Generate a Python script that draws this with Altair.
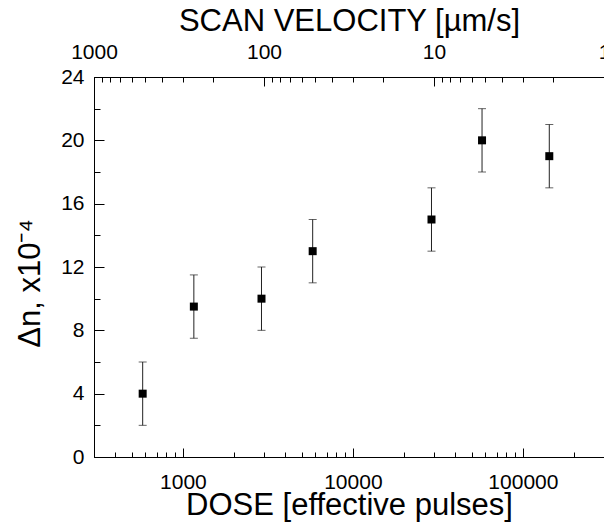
import altair as alt
import pandas as pd

# ---- data ----
dose = [580, 1160, 2900, 5800, 29000, 57500, 143000]
delta_n = [4.0, 9.5, 10.0, 13.0, 15.0, 20.0, 19.0]
delta_n_err = [2.0, 2.0, 2.0, 2.0, 2.0, 2.0, 2.0]

dose_major_ticks = [1000, 10000, 100000]
dose_minor_ticks = [400, 500, 600, 700, 800, 900,
                    2000, 3000, 4000, 5000, 6000, 7000, 8000, 9000,
                    20000, 30000, 40000, 50000, 60000, 70000, 80000, 90000,
                    200000]
velocity_major_ticks = [1000, 100, 10, 1]
velocity_minor_ticks = [900, 800, 700, 600, 500, 400, 300, 200,
                        90, 80, 70, 60, 50, 40, 30, 20,
                        9, 8, 7, 6, 5, 4, 3, 2]
y_major_ticks = [0, 4, 8, 12, 16, 20, 24]
y_minor_ticks = [2, 6, 10, 14, 18, 22]

df = pd.DataFrame({
    "dose": dose,
    "dn": delta_n,
    "lo": [v - e for v, e in zip(delta_n, delta_n_err)],
    "hi": [v + e for v, e in zip(delta_n, delta_n_err)],
})
vel_major_df = pd.DataFrame({"velocity": velocity_major_ticks})
vel_minor_df = pd.DataFrame({"velocity": velocity_minor_ticks})

FONT = "Liberation Sans"
x_scale = alt.Scale(type="log", domain=[300, 300000], nice=False)
y_scale = alt.Scale(domain=[0, 24], nice=False)
vel_scale = alt.Scale(type="log", domain=[1, 1000], reverse=True, nice=False)


def ax(**kw):
    base = dict(domainColor="black", tickColor="black", labelColor="black",
                titleColor="black", labelFont=FONT, titleFont=FONT,
                labelFontSize=21, titleFontSize=31, titleFontWeight="normal",
                grid=False, labelFlush=False, domainWidth=1, tickWidth=1)
    base.update(kw)
    return alt.Axis(**base)


bars = alt.Chart(df).mark_rule(color="#222222", strokeWidth=1).encode(
    x=alt.X("dose:Q", scale=x_scale,
            axis=ax(orient="bottom", values=dose_major_ticks, format="d",
                    tickSize=alt.ExprRef(expr="-9"), labelPadding=23,
                    title="DOSE [effective pulses]",
                    titlePadding=alt.ExprRef(expr="-2"))),
    y=alt.Y("lo:Q", scale=y_scale,
            axis=ax(orient="left", values=y_major_ticks, format="d",
                    tickSize=alt.ExprRef(expr="-10"), labelPadding=20,
                    title="Δn, x10⁻⁴", titlePadding=14, titleY=206)),
    y2="hi:Q",
)
caps_lo = alt.Chart(df).mark_tick(orient="horizontal", size=8, thickness=1,
                                  color="#222222").encode(x="dose:Q", y="lo:Q")
caps_hi = alt.Chart(df).mark_tick(orient="horizontal", size=8, thickness=1,
                                  color="#222222").encode(x="dose:Q", y="hi:Q")
points = alt.Chart(df).mark_square(size=64, color="black", opacity=1).encode(
    x="dose:Q", y="dn:Q")

data_layer = alt.layer(bars, caps_lo, caps_hi, points)

minor = alt.Chart(df).mark_point(opacity=0).encode(
    x=alt.X("dose:Q", scale=x_scale,
            axis=ax(orient="bottom", values=dose_minor_ticks, labels=False,
                    domain=False, tickSize=alt.ExprRef(expr="-5"), title=None)),
    y=alt.Y("dn:Q", scale=y_scale,
            axis=ax(orient="left", values=y_minor_ticks, labels=False,
                    domain=False, tickSize=alt.ExprRef(expr="-6"), title=None)),
)

top_major = alt.Chart(vel_major_df).mark_point(opacity=0).encode(
    x=alt.X("velocity:Q", scale=vel_scale,
            axis=ax(orient="top", values=velocity_major_ticks, format="d",
                    tickSize=alt.ExprRef(expr="-9"), labelPadding=24,
                    title="SCAN VELOCITY [µm/s]", titlePadding=4)),
)
top_minor = alt.Chart(vel_minor_df).mark_point(opacity=0).encode(
    x=alt.X("velocity:Q", scale=vel_scale,
            axis=ax(orient="top", values=velocity_minor_ticks, labels=False,
                    domain=False, tickSize=alt.ExprRef(expr="-5"), title=None)),
)

chart = alt.layer(data_layer, minor, top_major, top_minor).resolve_scale(
    x="independent", y="independent"
).resolve_axis(
    x="independent", y="independent"
).properties(
    width=510, height=380,
    padding={"left": 86, "top": 69, "right": 0, "bottom": 66},
    autosize=alt.AutoSizeParams(type="none"),
    background="white",
).configure_view(stroke="black", strokeWidth=1)

chart.save("out.html", embed_options={"renderer": "svg", "actions": False})
